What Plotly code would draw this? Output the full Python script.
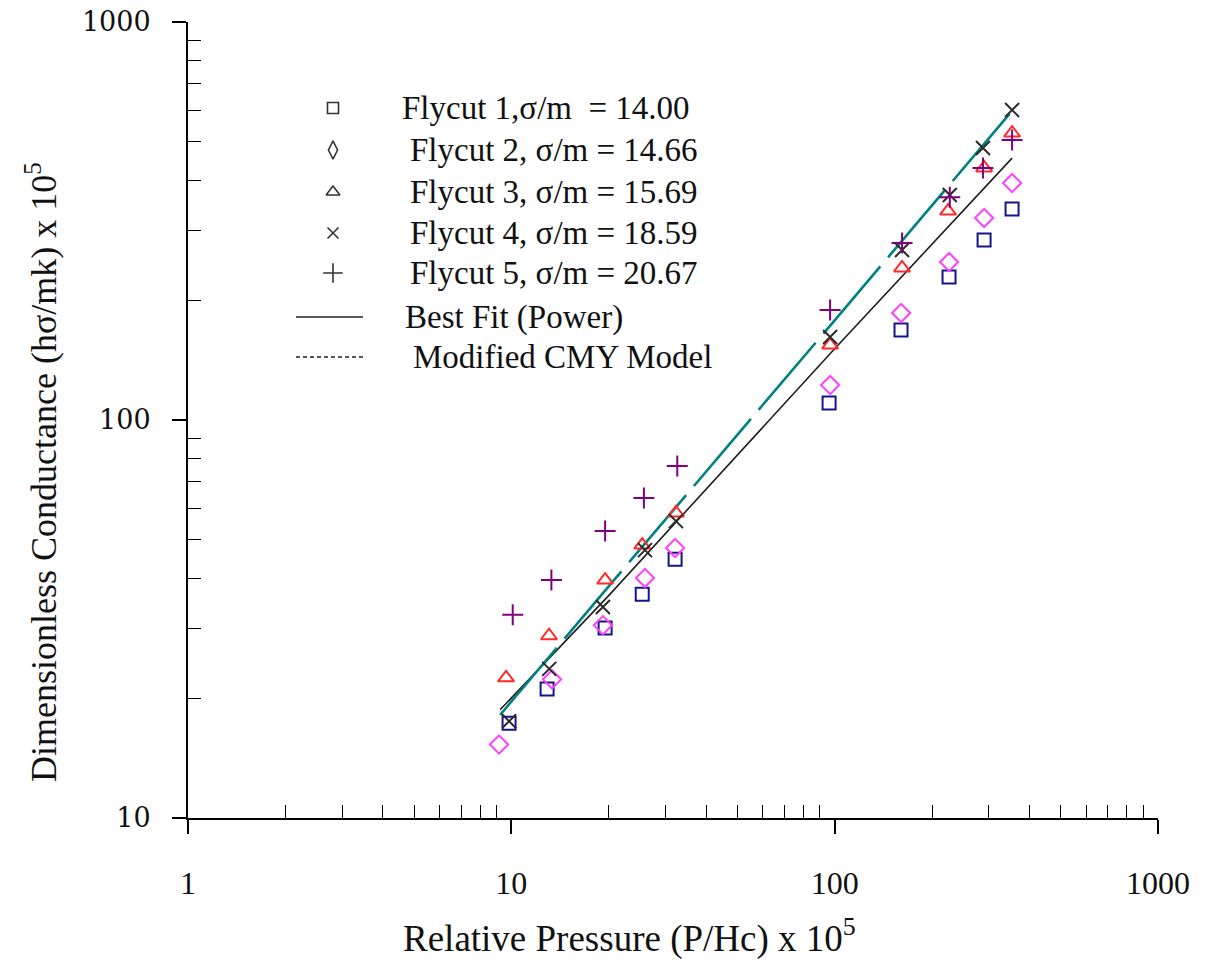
import plotly.graph_objects as go

# ---------------- data ----------------
f1_x = [9.84, 12.9, 19.5, 25.4, 32.1, 96.1, 160.4, 225.8, 289.8, 353.7]
f1_y = [17.3, 21.1, 30.0, 36.5, 44.7, 110.3, 168.3, 228.7, 283.4, 339.0]

f2_x = [9.16, 13.36, 19.2, 25.9, 32.1, 96.8, 160.5, 225.9, 289.9, 353.8]
f2_y = [15.3, 22.3, 30.5, 40.1, 47.7, 122.4, 185.7, 249.4, 321.8, 393.9]

f3_x = [9.63, 13.08, 19.5, 25.4, 32.3, 96.8, 161.6, 224.3, 289.9, 353.8]
f3_y = [22.5, 28.7, 39.6, 48.5, 58.4, 154.3, 241.0, 335.0, 429.8, 526.0]

f4_x = [9.84, 13.1, 19.2, 25.9, 32.3, 96.8, 161.6, 227.0, 287.5, 353.8]
f4_y = [17.5, 23.7, 33.9, 47.1, 55.7, 161.6, 267.4, 367.6, 482.3, 601.0]

f5_x = [10.1, 13.3, 19.5, 25.7, 32.6, 96.8, 161.6, 227.0, 287.5, 353.8]
f5_y = [32.4, 39.6, 52.6, 63.7, 76.6, 188.9, 278.4, 363.0, 429.8, 505.0]

fit_x = [9.23, 20.0, 100.0, 353.8]
fit_y = [18.7, 36.2, 151.0, 455.0]

cmy_x = [9.23, 20.0, 100.0, 348.8]
cmy_y = [18.15, 38.2, 178.0, 590.0]

legend_labels = [
    "Flycut 1,σ/m\u00a0\u00a0= 14.00",
    "Flycut 2, σ/m = 14.66",
    "Flycut 3, σ/m = 15.69",
    "Flycut 4, σ/m = 18.59",
    "Flycut 5, σ/m = 20.67",
    "Best Fit (Power)",
    "Modified CMY Model",
]

x_tickvals = [1, 10, 100, 1000]
x_ticktext = ["1", "10", "100", "1000"]
y_tickvals = [10, 100, 1000]
y_ticktext = ["10", "100", "1000"]
x_minor_vals = [2, 3, 4, 5, 6, 7, 8, 9,
                20, 30, 40, 50, 60, 70, 80, 90,
                200, 300, 400, 500, 600, 700, 800, 900]
y_minor_vals = [20, 30, 40, 50, 60, 70, 80, 90,
                200, 300, 400, 500, 600, 700, 800, 900]

x_title = "Relative Pressure (P/Hc) x 10<sup>5</sup>"
y_title = "Dimensionless Conductance (hσ/mk) x 10<sup>5</sup>"

# ---------------- styling ----------------
W, H = 1209, 964
L, T = 188, 22
PW, PH = 970, 796
R, B = W - L - PW, H - T - PH

def px2paper_x(px):          # px in page (screenshot) coordinates
    return (px - L) / PW

def px2paper_y(py):
    return (T + PH - py) / PH

series = [
    (f1_x, f1_y, "square-open", "#14148c", 13),
    (f2_x, f2_y, "diamond-open", "#ff40ff", 14),
    (f3_x, f3_y, "triangle-up-open", "#ff2a2a", 14),
    (f4_x, f4_y, "x-thin-open", "#2a2a2a", 14),
    (f5_x, f5_y, "cross-thin-open", "#800080", 15),
]

fig = go.Figure()

# fit lines
fig.add_trace(go.Scatter(x=fit_x, y=fit_y, mode="lines",
                         line=dict(color="#1e1e1e", width=1.6),
                         showlegend=False, hoverinfo="skip"))
fig.add_trace(go.Scatter(x=cmy_x, y=cmy_y, mode="lines",
                         line=dict(color="#008080", width=2.6, dash="88px,12px"),
                         showlegend=False, hoverinfo="skip"))

for xs, ys, sym, col, sz in series:
    fig.add_trace(go.Scatter(x=xs, y=ys, mode="markers",
                             marker=dict(symbol=sym, size=sz, color=col,
                                         line=dict(color=col, width=2)),
                             showlegend=False, cliponaxis=False))

# ---------------- manual legend (overlay axes in paper-like units) ----------------
row_py = [108, 150, 192, 233, 273, 317, 357]
sym_px = 333
text_px = [400, 408, 408, 408, 408, 403, 411]
leg_syms = ["square-open", "diamond-tall-open", "triangle-up-open",
            "x-thin-open", "cross-thin-open"]
leg_sizes = [11, 13, 12, 11, 14]

for i, s in enumerate(leg_syms):
    fig.add_trace(go.Scatter(x=[px2paper_x(sym_px)], y=[px2paper_y(row_py[i])],
                             xaxis="x2", yaxis="y2", mode="markers",
                             marker=dict(symbol=s, size=leg_sizes[i], color="#333",
                                         line=dict(color="#333", width=1.6)),
                             showlegend=False, hoverinfo="skip", cliponaxis=False))

for i, dash in [(5, "solid"), (6, "4px,3px")]:
    fig.add_trace(go.Scatter(x=[px2paper_x(296), px2paper_x(363)],
                             y=[px2paper_y(row_py[i])] * 2,
                             xaxis="x2", yaxis="y2", mode="lines",
                             line=dict(color="#222", width=1.6, dash=dash),
                             showlegend=False, hoverinfo="skip", cliponaxis=False))

annotations = []
for i, lab in enumerate(legend_labels):
    annotations.append(dict(text=lab, x=px2paper_x(text_px[i]), y=px2paper_y(row_py[i]),
                            xref="paper", yref="paper", xanchor="left", yanchor="middle",
                            showarrow=False,
                            font=dict(family="Liberation Serif", size=33, color="#111")))

annotations.append(dict(text=x_title, x=px2paper_x(629), y=px2paper_y(936),
                        xref="paper", yref="paper", xanchor="center", yanchor="middle",
                        showarrow=False,
                        font=dict(family="Liberation Serif", size=37, color="#111")))
annotations.append(dict(text=y_title, x=px2paper_x(42), y=px2paper_y(472),
                        xref="paper", yref="paper", xanchor="center", yanchor="middle",
                        textangle=-90, showarrow=False,
                        font=dict(family="Liberation Serif", size=36, color="#111")))

def axis_common(minor_vals):
    return dict(type="log", showgrid=False, zeroline=False, showline=True,
                automargin=False, ticklabeloverflow="allow",
                linecolor="black", linewidth=2, ticks="outside", ticklen=14,
                tickwidth=1.6, tickcolor="black", mirror=False,
                minor=dict(ticks="inside", ticklen=13, tickwidth=1.4,
                           tickmode="array", tickvals=minor_vals,
                           tickcolor="black", showgrid=False))

fig.update_layout(
    width=W, height=H,
    margin=dict(l=L, r=R, t=T, b=B, pad=0, autoexpand=False),
    paper_bgcolor="white", plot_bgcolor="white",
    showlegend=False,
    annotations=annotations,
    xaxis=dict(axis_common(x_minor_vals), range=[0, 3], tickmode="array",
               tickvals=x_tickvals, ticktext=x_ticktext,
               ticklabelstandoff=22,
               tickfont=dict(family="Liberation Serif", size=32, color="#111")),
    yaxis=dict(axis_common(y_minor_vals), range=[1, 3], tickmode="array",
               tickvals=y_tickvals, ticktext=y_ticktext,
               ticklabelstandoff=16,
               tickfont=dict(family="DejaVu Serif", size=27, color="#111")),
    xaxis2=dict(overlaying="x", range=[0, 1], visible=False, fixedrange=True),
    yaxis2=dict(overlaying="y", range=[0, 1], visible=False, fixedrange=True),
)

fig.write_html("out.html",
               config={"displayModeBar": False},
               post_script="document.body.style.margin='0px';"
                           "document.body.style.overflow='hidden';")
